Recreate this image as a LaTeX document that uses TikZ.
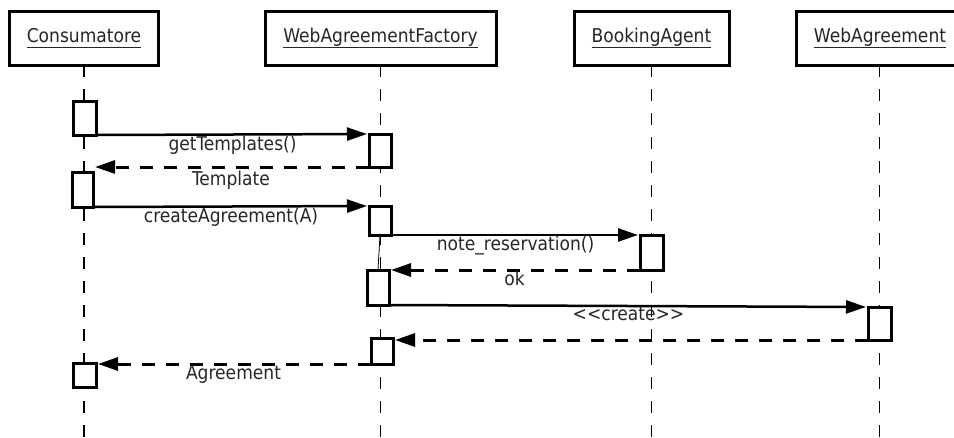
\documentclass[tikz,border=0pt]{standalone}
\usepackage{fontspec}
\setmainfont{DejaVu Sans Condensed}
\usetikzlibrary{arrows.meta}
% object name with a rule under it, kept at one depth for every name
\newcommand\objname[1]{\setbox0=\hbox{#1}\rlap{\copy0}\rule[-6pt]{\wd0}{1.5pt}}
\begin{document}
\begin{tikzpicture}[x=1pt,y=-1pt,
  txt/.style={font=\fontsize{19}{22}\selectfont, text=black!85},
  head/.style={txt, draw, line width=3pt, fill=white, minimum height=54pt,
    inner sep=0pt, outer sep=0pt},
  act/.style={draw, line width=3pt, fill=white, inner sep=0pt, outer sep=0pt,
    anchor=north west},
  lifeline/.style={line width=1.2pt, dash pattern=on 12pt off 12pt},
  call/.style={line width=2.5pt, -{Triangle[length=20pt,width=13pt]},
    shorten >=2pt},
  reply/.style={call, line width=3pt, dash pattern=on 13pt off 11pt},
  msg/.style={txt, below, inner sep=1.5pt, outer sep=0pt}]
\useasboundingbox (0,0) rectangle (954,437);
\clip (0,0) rectangle (954,437);

% participants (the last box runs past the right edge)
\node[head, minimum width=149pt] (cons) at (84,38)    {\objname{Consumatore}};
\node[head, minimum width=231pt] (waf)  at (380.5,38) {\objname{WebAgreementFactory}};
\node[head, minimum width=155pt] (ba)   at (651.5,38) {\objname{BookingAgent}};
\node[head, minimum width=184pt, xshift=8pt] (wa) at (880,38)
  {\objname{WebAgreement}\hspace*{16pt}};

% activations
\node[act, minimum width=23pt, minimum height=34pt] (c1) at (73,101) {};
\node[act, minimum width=22pt, minimum height=33pt] (f1) at (369,134) {};
\node[act, minimum width=21pt, minimum height=35pt] (c2) at (72,172) {};
\node[act, minimum width=22pt, minimum height=29pt] (f2) at (369,206) {};
\node[act, minimum width=23pt, minimum height=35pt] (b1) at (640,235) {};
\node[act, minimum width=22pt, minimum height=35pt] (f3) at (367,270) {};
\node[act, minimum width=23pt, minimum height=33pt] (w1) at (868,307) {};
\node[act, minimum width=22pt, minimum height=26pt] (f4) at (371,338) {};
\node[act, minimum width=23pt, minimum height=24pt] (c3) at (73,363) {};

% lifelines
\coordinate (bottom) at (0,440);
\draw[lifeline] (cons.south) -- (cons.south |- bottom);
\draw[lifeline] (waf.south)  -- (waf.south |- bottom);
\draw[lifeline] (ba.south)   -- (ba.south |- bottom);
\draw[lifeline] (w1.north |- wa.south) -- (w1.north |- bottom);

% activation boxes drawn again over the lifelines
\foreach \b in {c1,f1,c2,f2,b1,f3,w1,f4,c3}
  \draw[line width=3pt, fill=white] (\b.north west) rectangle (\b.south east);

% lifeline of the factory while it waits for the agent
\draw[line width=0.8pt] (f2.south) -- (f3.north);

% messages
\draw[call]  (c1.south east) -- node[msg] {getTemplates()} (f1.north west);
\draw[reply] (f1.south west) -- node[msg, yshift=-3pt] {Template} (f1.south west -| c2.north east);
\draw[call]  (c2.south east) -- node[msg] {createAgreement(A)} (f2.north west);
\draw[call]  (f2.south east) -- node[msg] {note\_reservation()} (b1.north west);
\draw[reply] (b1.south west) -- node[msg] {ok} (b1.south west -| f3.north east);
\draw[call]  (f3.south east) -- node[msg] {<\kern0pt<create>\kern0pt>} (w1.north west);
\draw[reply] (w1.south west) -- (w1.south west -| f4.north east);
\draw[reply] (f4.south west) -- node[msg] {Agreement} (f4.south west -| c3.north east);
\end{tikzpicture}
\end{document}
